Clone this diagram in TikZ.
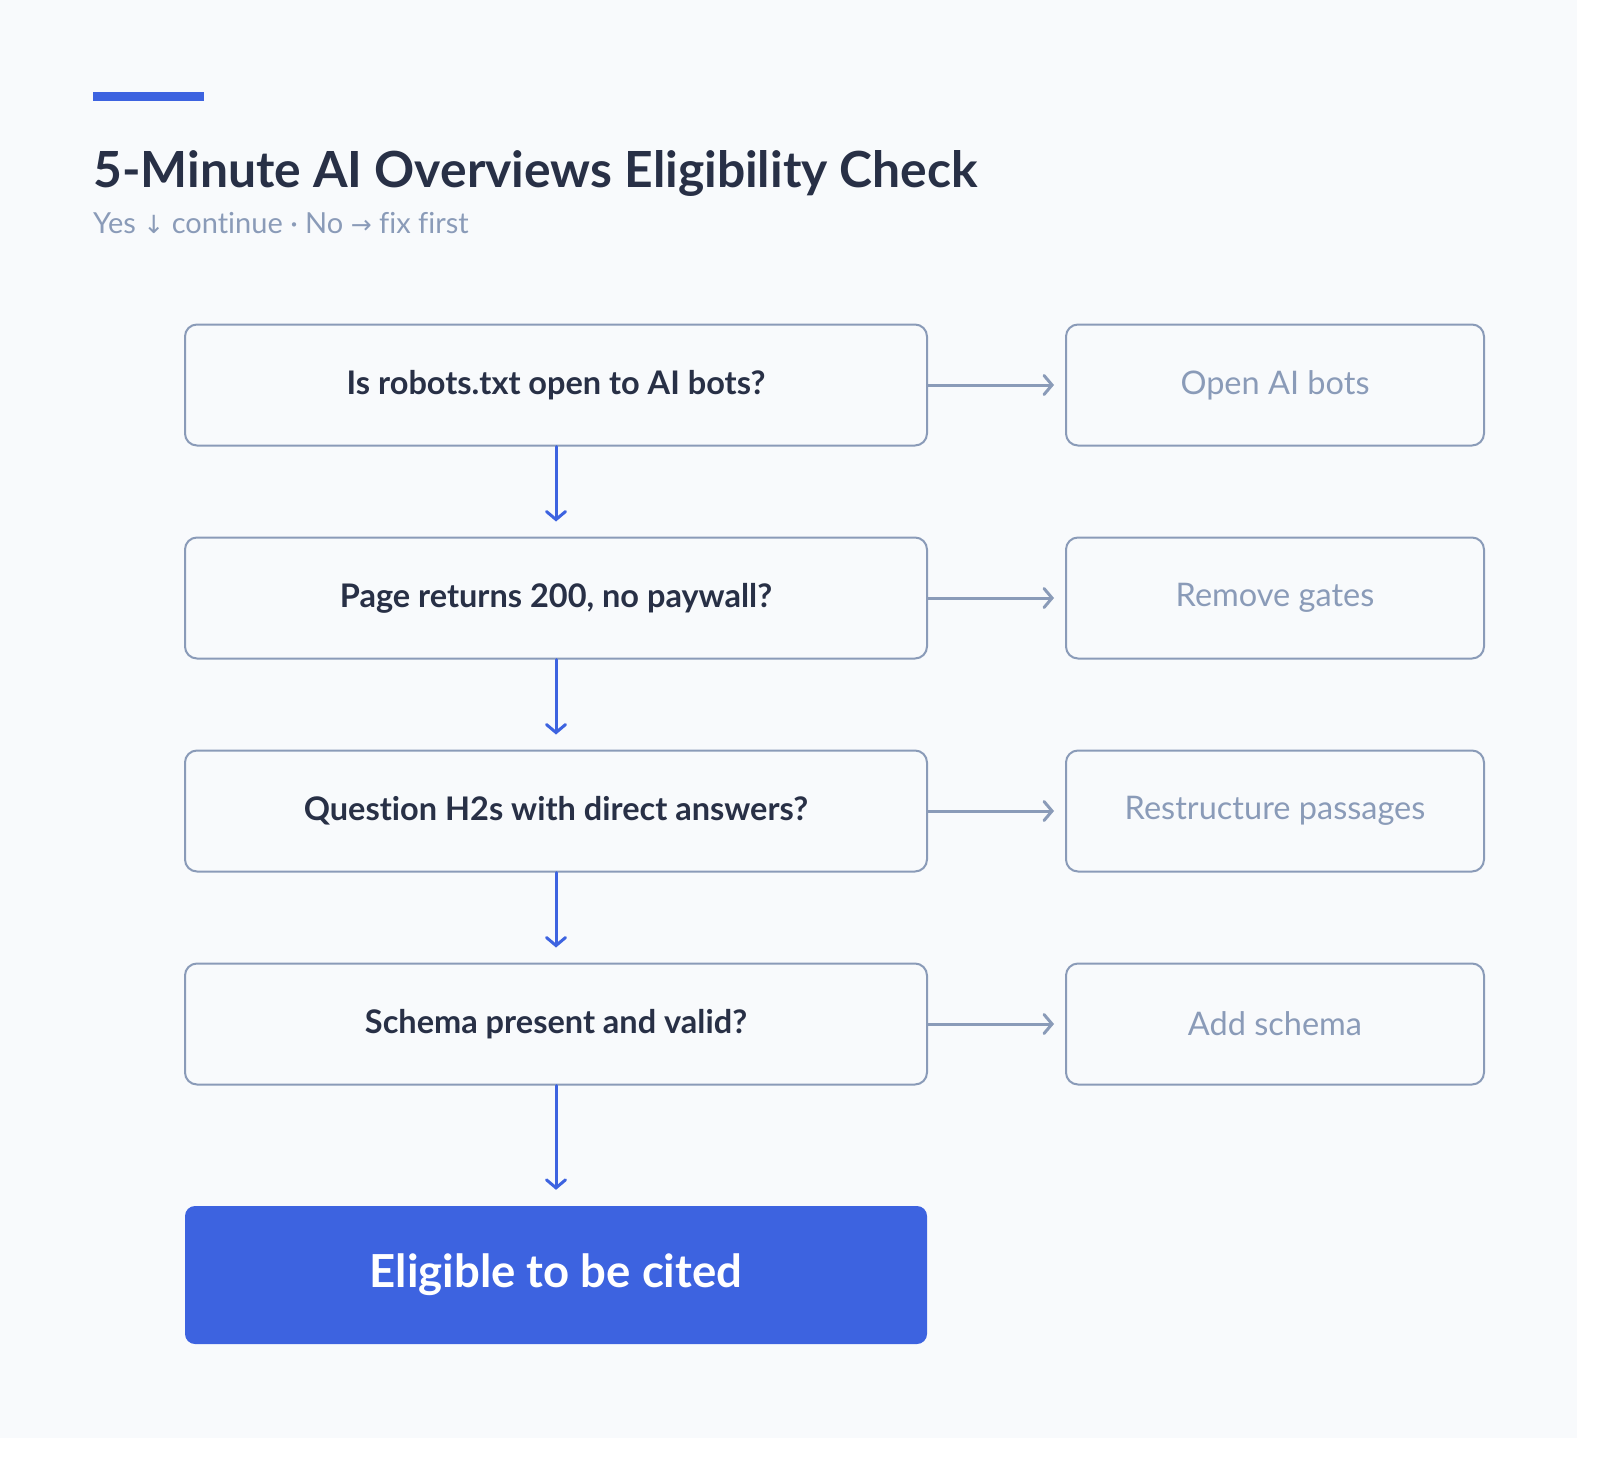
\documentclass[tikz,border=0pt]{standalone}
\usepackage{fontspec}
\setmainfont{Lato}[Ligatures={NoCommon}]
\newfontfamily\symfont{DejaVu Sans}
\usetikzlibrary{arrows.meta}
\definecolor{bgc}{HTML}{F8FAFC}
\definecolor{edgec}{HTML}{8A9BB8}
\definecolor{bluec}{HTML}{3D63E0}
\definecolor{inkc}{HTML}{283046}
\definecolor{mutedc}{HTML}{8A9BB8}
\begin{document}
\begin{tikzpicture}[x=1pt,y=-1pt,
  qbox/.style={draw=edgec, line width=2pt, rounded corners=12pt, minimum width=742pt, minimum height=121pt, inner sep=0pt, text=inkc, font=\bfseries\fontsize{32.5}{38}\selectfont},
  fixbox/.style={draw=edgec, line width=2pt, rounded corners=12pt, minimum width=418pt, minimum height=121pt, inner sep=0pt, text=mutedc, font=\fontsize{32.5}{38}\selectfont},
  endbox/.style={fill=bluec, rounded corners=10pt, minimum width=742pt, minimum height=138pt, inner sep=0pt, text=white, font=\bfseries\fontsize{45.5}{52}\selectfont},
  yesarrow/.style={draw=bluec, line width=3pt, line cap=round, -{Straight Barb[length=8pt,width=19pt,line cap=round]}},
  noarrow/.style={draw=edgec, line width=3pt, line cap=round, -{Straight Barb[length=8pt,width=19pt,line cap=round]}}
]
\useasboundingbox (0,0) rectangle (1600,1461);
\fill[white] (0,0) rectangle (1600,1461);
\fill[bgc] (0,0) rectangle (1577,1438);
\fill[bluec] (93,92) rectangle (204,101);
\node[anchor=base west, inner sep=0pt, text=inkc, font=\bfseries\fontsize{49.8}{56}\selectfont] (title) at (93,187) {5-Minute AI Overviews Eligibility Check};
\node[anchor=base west, inner sep=0pt, text=mutedc, font=\fontsize{29}{34}\selectfont] (sub) at (93,233) {Yes {\symfont\fontsize{25}{30}\selectfont↓} continue · No {\symfont\fontsize{25}{30}\selectfont→} fix first};

\node[qbox] (q1) at (556,385) {Is robots.txt open to AI bots?};
\node[qbox] (q2) at (556,598) {Page returns 200, no paywall?};
\node[qbox] (q3) at (556,811) {Question H2s with direct answers?};
\node[qbox] (q4) at (556,1024) {Schema present and valid?};
\node[endbox] (done) at (556,1275) {Eligible to be cited};

\node[fixbox] (f1) at (1275,385) {Open AI bots};
\node[fixbox] (f2) at (1275,598) {Remove gates};
\node[fixbox] (f3) at (1275,811) {Restructure passages};
\node[fixbox] (f4) at (1275,1024) {Add schema};

\draw[yesarrow, shorten >=15pt] (q1.south) -- (q2.north);
\draw[yesarrow, shorten >=15pt] (q2.south) -- (q3.north);
\draw[yesarrow, shorten >=15pt] (q3.south) -- (q4.north);
\draw[yesarrow, shorten >=16pt] (q4.south) -- (done.north);

\draw[noarrow, shorten >=11pt] (q1.east) -- (f1.west);
\draw[noarrow, shorten >=11pt] (q2.east) -- (f2.west);
\draw[noarrow, shorten >=11pt] (q3.east) -- (f3.west);
\draw[noarrow, shorten >=11pt] (q4.east) -- (f4.west);
\end{tikzpicture}
\end{document}
